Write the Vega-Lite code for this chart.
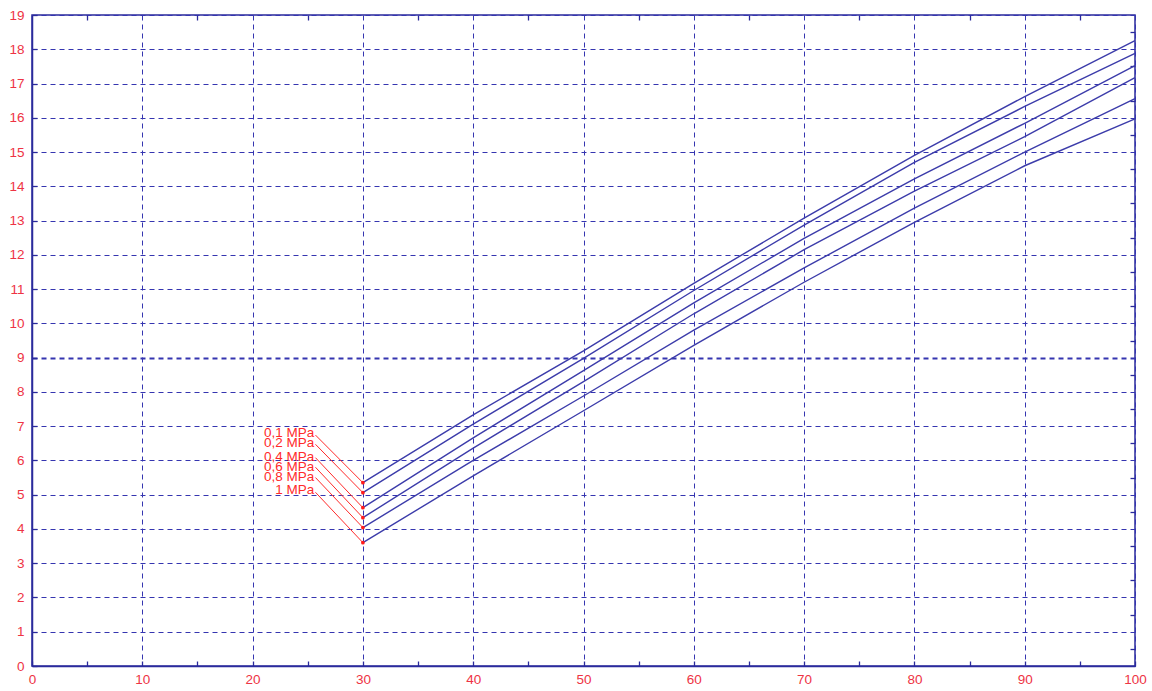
{
  "$schema": "https://vega.github.io/schema/vega-lite/v6.json",
  "width": 1103,
  "height": 651,
  "autosize": "none",
  "padding": {"left": 32, "top": 15, "right": 17, "bottom": 25},
  "background": "white",
  "config": {
    "view": {"stroke": "#2a2a9c", "strokeWidth": 1.5},
    "axis": {
      "domainColor": "#2a2a9c",
      "domainWidth": 1.5,
      "tickColor": "#2a2a9c",
      "tickWidth": 1.3,
      "labelColor": "#ee3344",
      "labelFont": "Liberation Sans",
      "labelFontSize": 13.5,
      "labelOverlap": false,
      "labelFlush": false,
      "gridColor": "#3535b0",
      "gridDash": [5, 4],
      "title": null
    }
  },
  "datasets": {
    "curves": [
      {"p": "0,1 MPa", "t": 30, "v": 5.35}, {"p": "0,1 MPa", "t": 40, "v": 7.33}, {"p": "0,1 MPa", "t": 50, "v": 9.2}, {"p": "0,1 MPa", "t": 60, "v": 11.17}, {"p": "0,1 MPa", "t": 70, "v": 13.07}, {"p": "0,1 MPa", "t": 80, "v": 14.9}, {"p": "0,1 MPa", "t": 90, "v": 16.62}, {"p": "0,1 MPa", "t": 100, "v": 18.25},
      {"p": "0,2 MPa", "t": 30, "v": 5.06}, {"p": "0,2 MPa", "t": 40, "v": 7.06}, {"p": "0,2 MPa", "t": 50, "v": 8.98}, {"p": "0,2 MPa", "t": 60, "v": 10.96}, {"p": "0,2 MPa", "t": 70, "v": 12.87}, {"p": "0,2 MPa", "t": 80, "v": 14.7}, {"p": "0,2 MPa", "t": 90, "v": 16.33}, {"p": "0,2 MPa", "t": 100, "v": 17.88},
      {"p": "0,4 MPa", "t": 30, "v": 4.62}, {"p": "0,4 MPa", "t": 40, "v": 6.66}, {"p": "0,4 MPa", "t": 50, "v": 8.62}, {"p": "0,4 MPa", "t": 60, "v": 10.6}, {"p": "0,4 MPa", "t": 70, "v": 12.48}, {"p": "0,4 MPa", "t": 80, "v": 14.22}, {"p": "0,4 MPa", "t": 90, "v": 15.84}, {"p": "0,4 MPa", "t": 100, "v": 17.52},
      {"p": "0,6 MPa", "t": 30, "v": 4.33}, {"p": "0,6 MPa", "t": 40, "v": 6.36}, {"p": "0,6 MPa", "t": 50, "v": 8.3}, {"p": "0,6 MPa", "t": 60, "v": 10.28}, {"p": "0,6 MPa", "t": 70, "v": 12.15}, {"p": "0,6 MPa", "t": 80, "v": 13.86}, {"p": "0,6 MPa", "t": 90, "v": 15.45}, {"p": "0,6 MPa", "t": 100, "v": 17.17},
      {"p": "0,8 MPa", "t": 30, "v": 4.04}, {"p": "0,8 MPa", "t": 40, "v": 6.0}, {"p": "0,8 MPa", "t": 50, "v": 7.88}, {"p": "0,8 MPa", "t": 60, "v": 9.8}, {"p": "0,8 MPa", "t": 70, "v": 11.62}, {"p": "0,8 MPa", "t": 80, "v": 13.36}, {"p": "0,8 MPa", "t": 90, "v": 15.0}, {"p": "0,8 MPa", "t": 100, "v": 16.56},
      {"p": "1 MPa", "t": 30, "v": 3.6}, {"p": "1 MPa", "t": 40, "v": 5.55}, {"p": "1 MPa", "t": 50, "v": 7.45}, {"p": "1 MPa", "t": 60, "v": 9.36}, {"p": "1 MPa", "t": 70, "v": 11.2}, {"p": "1 MPa", "t": 80, "v": 12.95}, {"p": "1 MPa", "t": 90, "v": 14.6}, {"p": "1 MPa", "t": 100, "v": 15.97}
    ],
    "labels": [
      {"lab": "0,1 MPa", "tx": 25.6, "ty": 6.81, "lx": 25.7, "ly": 6.74, "px": 30, "py": 5.35},
      {"lab": "0,2 MPa", "tx": 25.6, "ty": 6.52, "lx": 25.7, "ly": 6.47, "px": 30, "py": 5.06},
      {"lab": "0,4 MPa", "tx": 25.6, "ty": 6.11, "lx": 25.7, "ly": 6.08, "px": 30, "py": 4.62},
      {"lab": "0,6 MPa", "tx": 25.6, "ty": 5.82, "lx": 25.7, "ly": 5.8, "px": 30, "py": 4.33},
      {"lab": "0,8 MPa", "tx": 25.6, "ty": 5.53, "lx": 25.7, "ly": 5.5, "px": 30, "py": 4.04},
      {"lab": "1 MPa", "tx": 25.6, "ty": 5.14, "lx": 25.7, "ly": 5.07, "px": 30, "py": 3.6}
    ]
  },
  "layer": [
    {
      "data": {"name": "curves"},
      "mark": {"type": "line", "color": "#3c3caa", "strokeWidth": 1.4},
      "encoding": {
        "x": {
          "field": "t", "type": "quantitative",
          "scale": {"domain": [0, 100], "nice": false, "zero": false},
          "axis": {
            "orient": "bottom",
            "format": "d",
            "values": [0, 5, 10, 15, 20, 25, 30, 35, 40, 45, 50, 55, 60, 65, 70, 75, 80, 85, 90, 95, 100],
            "labelExpr": "datum.value % 10 === 0 ? datum.label : ''",
            "grid": true,
            "gridOpacity": {"condition": {"test": "datum.value % 10 !== 0", "value": 0}, "value": 1},
            "tickSize": -5,
            "labelPadding": 11
          }
        },
        "y": {
          "field": "v", "type": "quantitative",
          "scale": {"domain": [0, 19], "nice": false, "zero": false},
          "axis": {
            "orient": "left",
            "format": "d",
            "values": [0, 0.5, 1, 1.5, 2, 2.5, 3, 3.5, 4, 4.5, 5, 5.5, 6, 6.5, 7, 7.5, 8, 8.5, 9, 9.5, 10, 10.5, 11, 11.5, 12, 12.5, 13, 13.5, 14, 14.5, 15, 15.5, 16, 16.5, 17, 17.5, 18, 18.5, 19],
            "labelExpr": "datum.value % 1 === 0 ? datum.label : ''",
            "grid": true,
            "gridOpacity": {"condition": {"test": "datum.value % 1 !== 0", "value": 0}, "value": 1},
            "gridWidth": {"condition": {"test": "datum.value === 9", "value": 2}, "value": 1.1},
            "tickSize": -5,
            "labelPadding": 13
          }
        },
        "detail": {"field": "p", "type": "nominal"}
      }
    },
    {
      "data": {"name": "labels"},
      "mark": {"type": "rule", "color": "#ff2a2a", "strokeWidth": 1},
      "encoding": {
        "x": {"field": "lx", "type": "quantitative", "scale": {"domain": [0, 100], "nice": false, "zero": false}, "axis": null},
        "x2": {"field": "px"},
        "y": {"field": "ly", "type": "quantitative", "scale": {"domain": [0, 19], "nice": false, "zero": false}, "axis": null},
        "y2": {"field": "py"}
      }
    },
    {
      "data": {"name": "labels"},
      "mark": {"type": "point", "filled": true, "color": "#ff1a1a", "size": 14, "opacity": 1},
      "encoding": {
        "x": {"field": "px", "type": "quantitative", "scale": {"domain": [0, 100], "nice": false, "zero": false}, "axis": null},
        "y": {"field": "py", "type": "quantitative", "scale": {"domain": [0, 19], "nice": false, "zero": false}, "axis": null}
      }
    },
    {
      "data": {"name": "labels"},
      "mark": {"type": "text", "color": "#ff2a2a", "align": "right", "baseline": "middle", "font": "Liberation Sans", "fontSize": 13.5},
      "encoding": {
        "x": {
          "field": "tx", "type": "quantitative",
          "scale": {"domain": [0, 100], "nice": false, "zero": false},
          "axis": {
            "orient": "top",
            "values": [5, 15, 25, 35, 45, 55, 65, 75, 85, 95],
            "labels": false, "grid": false, "domain": false, "tickSize": -5
          }
        },
        "y": {
          "field": "ty", "type": "quantitative",
          "scale": {"domain": [0, 19], "nice": false, "zero": false},
          "axis": {
            "orient": "right",
            "values": [0.5, 1.5, 2.5, 3.5, 4.5, 5.5, 6.5, 7.5, 8.5, 9.5, 10.5, 11.5, 12.5, 13.5, 14.5, 15.5, 16.5, 17.5, 18.5],
            "labels": false, "grid": false, "domain": false, "tickSize": -5
          }
        },
        "text": {"field": "lab", "type": "nominal"}
      }
    }
  ],
  "resolve": {"axis": {"x": "independent", "y": "independent"}}
}
